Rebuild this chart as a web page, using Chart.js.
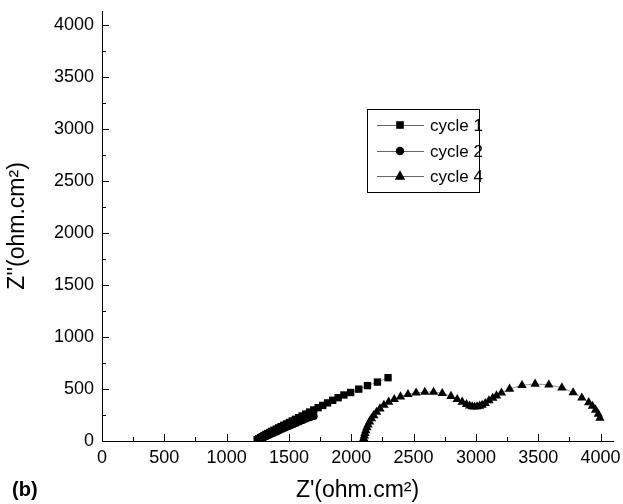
<!DOCTYPE html>
<html>
<head>
<meta charset="utf-8">
<script src="https://cdn.jsdelivr.net/npm/chart.js@4.4.0/dist/chart.umd.min.js"></script>
<style>
  body { margin: 0; background: #fff; }
  #wrap { width: 623px; height: 504px; }
</style>
</head>
<body>
<div id="wrap"><canvas id="myChart"></canvas></div>
<script>
// impedance data (ohm.cm2)
var cycle1X = [1245, 1258, 1272, 1286, 1300, 1315, 1330, 1346, 1362, 1380, 1398, 1417, 1437, 1458, 1480, 1503, 1527, 1552, 1578, 1606, 1635, 1666, 1699, 1734, 1771, 1810, 1851, 1895, 1941, 1995, 2060, 2130, 2210, 2295];
var cycle1Y = [12, 22, 32, 42, 52, 62, 72, 82, 92, 103, 114, 126, 138, 151, 164, 178, 193, 208, 224, 241, 259, 278, 298, 320, 342, 366, 391, 416, 442, 466, 498, 532, 566, 608];

var cycle2X = [1250, 1262, 1275, 1288, 1302, 1316, 1331, 1346, 1362, 1379, 1396, 1414, 1433, 1452, 1472, 1493, 1515, 1538, 1562, 1587, 1613, 1641, 1670, 1700];
var cycle2Y = [5, 12, 20, 28, 36, 44, 52, 60, 69, 78, 87, 97, 107, 117, 128, 139, 150, 162, 174, 187, 200, 213, 226, 238];

var cycle4X = [2095, 2100, 2105, 2110, 2117, 2125, 2135, 2147, 2162, 2180, 2203, 2230, 2262, 2300, 2345, 2395, 2455, 2520, 2590, 2660, 2730, 2800, 2850, 2890, 2925, 2950, 2970, 2990, 3010, 3030, 3050, 3075, 3105, 3135, 3165, 3205, 3270, 3370, 3475, 3585, 3690, 3780, 3850, 3905, 3935, 3960, 3982, 3995];
var cycle4Y = [5, 25, 50, 75, 100, 128, 155, 185, 215, 245, 278, 310, 345, 375, 400, 425, 448, 463, 470, 470, 458, 430, 400, 375, 352, 338, 330, 328, 330, 336, 345, 362, 388, 412, 435, 462, 500, 535, 548, 540, 512, 465, 415, 370, 335, 298, 258, 220];

var seriesLabels = ['cycle 1', 'cycle 2', 'cycle 4'];
var seriesStyles = ['rect', 'circle', 'triangle'];

var majorTicks = [0, 500, 1000, 1500, 2000, 2500, 3000, 3500, 4000];
var minorTicks = [250, 750, 1250, 1750, 2250, 2750, 3250, 3750];

function toPoints(xs, ys) {
    var pts = [];
    for (var i = 0; i < xs.length; i++) {
        pts.push({x: xs[i], y: ys[i]});
    }
    return pts;
}

var lineColor = '#666';
var fontName = "'Liberation Sans', Arial, sans-serif";

// ticks pointing into the plot, like the original figure
var innerTicks = {
    id: 'innerTicks',
    afterDraw: function(chart) {
        var ctx = chart.ctx;
        var xs = chart.scales.x, ys = chart.scales.y;
        var area = chart.chartArea;
        ctx.save();
        ctx.strokeStyle = '#000';
        ctx.lineWidth = 1;
        ctx.beginPath();
        majorTicks.forEach(function(v) {
            var px = Math.round(xs.getPixelForValue(v)) + 0.5;
            ctx.moveTo(px, area.bottom);
            ctx.lineTo(px, area.bottom - 7);
            var py = Math.round(ys.getPixelForValue(v)) + 0.5;
            ctx.moveTo(area.left, py);
            ctx.lineTo(area.left + 7, py);
        });
        minorTicks.forEach(function(v) {
            var px = Math.round(xs.getPixelForValue(v)) + 0.5;
            ctx.moveTo(px, area.bottom);
            ctx.lineTo(px, area.bottom - 4);
            var py = Math.round(ys.getPixelForValue(v)) + 0.5;
            ctx.moveTo(area.left, py);
            ctx.lineTo(area.left + 4, py);
        });
        ctx.stroke();
        ctx.restore();
    }
};

function drawMarker(ctx, style, x, y, r) {
    ctx.beginPath();
    if (style === 'rect') {
        ctx.rect(x - r, y - r, 2 * r, 2 * r);
    } else if (style === 'circle') {
        ctx.arc(x, y, r, 0, Math.PI * 2);
    } else {
        ctx.moveTo(x, y - r * 1.1);
        ctx.lineTo(x + r, y + r * 0.7);
        ctx.lineTo(x - r, y + r * 0.7);
        ctx.closePath();
    }
    ctx.fill();
}

// boxed legend inside the plot + panel letter
var boxLegend = {
    id: 'boxLegend',
    afterDraw: function(chart) {
        var ctx = chart.ctx;
        ctx.save();
        ctx.strokeStyle = '#000';
        ctx.lineWidth = 1;
        ctx.strokeRect(367.5, 109.5, 112, 83);
        var rows = [125, 151, 176];
        chart.data.datasets.forEach(function(ds, i) {
            var y = rows[i];
            ctx.strokeStyle = lineColor;
            ctx.beginPath();
            ctx.moveTo(377, y + 0.5);
            ctx.lineTo(424, y + 0.5);
            ctx.stroke();
            ctx.fillStyle = '#000';
            drawMarker(ctx, ds.pointStyle, 400, y, ds.pointStyle === 'rect' ? 3.8 : (ds.pointStyle === 'circle' ? 4.2 : 5.2));
            ctx.font = '17px ' + fontName;
            ctx.textBaseline = 'middle';
            ctx.textAlign = 'left';
            ctx.fillText(ds.label, 430, y + 1);
        });
        ctx.font = 'bold 20px ' + fontName;
        ctx.textBaseline = 'middle';
        ctx.fillText('(b)', 12, 490);
        ctx.restore();
    }
};

var ctx = document.getElementById("myChart");
var myChart = new Chart(ctx, {
    type: 'scatter',
    data: {
        datasets: [{
            label: seriesLabels[0],
            data: toPoints(cycle1X, cycle1Y),
            pointStyle: seriesStyles[0],
            pointRadius: 5.2,
            showLine: true,
            borderColor: lineColor,
            borderWidth: 0.7,
            backgroundColor: '#000',
            pointBorderColor: '#000',
            pointBorderWidth: 0
        }, {
            label: seriesLabels[1],
            data: toPoints(cycle2X, cycle2Y),
            pointStyle: seriesStyles[1],
            pointRadius: 3.8,
            showLine: true,
            borderColor: lineColor,
            borderWidth: 0.7,
            backgroundColor: '#000',
            pointBorderColor: '#000',
            pointBorderWidth: 0
        }, {
            label: seriesLabels[2],
            data: toPoints(cycle4X, cycle4Y),
            pointStyle: seriesStyles[2],
            pointRadius: 5.4,
            showLine: true,
            borderColor: lineColor,
            borderWidth: 0.7,
            backgroundColor: '#000',
            pointBorderColor: '#000',
            pointBorderWidth: 0
        }]
    },
    options: {
        responsive: true,
        maintainAspectRatio: false,
        animation: { duration: 0 },
        layout: { padding: { left: 0, right: 10, top: 11, bottom: 0 } },
        plugins: {
            legend: { display: false },
            tooltip: { enabled: false }
        },
        scales: {
            x: {
                type: 'linear',
                min: 0,
                max: 4100,
                afterBuildTicks: function(scale) {
                    scale.ticks = majorTicks.map(function(v) { return {value: v}; });
                },
                afterFit: function(scale) {
                    scale.height = 63;
                    scale.paddingLeft = 0;
                    scale.paddingRight = 0;
                },
                grid: { display: false, drawTicks: false },
                border: { display: true, color: '#000', width: 1 },
                ticks: {
                    color: '#000',
                    padding: 6,
                    maxRotation: 0,
                    font: { family: fontName, size: 18 },
                    callback: function(v) { return String(v); }
                },
                title: {
                    display: true,
                    text: "Z'(ohm.cm²)",
                    color: '#000',
                    font: { family: fontName, size: 23 },
                    padding: { top: 0, bottom: 0 }
                }
            },
            y: {
                type: 'linear',
                min: 0,
                max: 4130,
                afterBuildTicks: function(scale) {
                    scale.ticks = majorTicks.map(function(v) { return {value: v}; });
                },
                afterFit: function(scale) {
                    scale.width = 102;
                    scale.paddingTop = 0;
                    scale.paddingBottom = 0;
                },
                grid: { display: false, drawTicks: false },
                border: { display: true, color: '#000', width: 1 },
                ticks: {
                    color: '#000',
                    padding: 8,
                    font: { family: fontName, size: 18 },
                    callback: function(v) { return String(v); }
                },
                title: {
                    display: true,
                    text: "Z''(ohm.cm²)",
                    color: '#000',
                    font: { family: fontName, size: 23 },
                    padding: { top: 4, bottom: 0 }
                }
            }
        }
    },
    plugins: [innerTicks, boxLegend]
});
</script>
</body>
</html>
